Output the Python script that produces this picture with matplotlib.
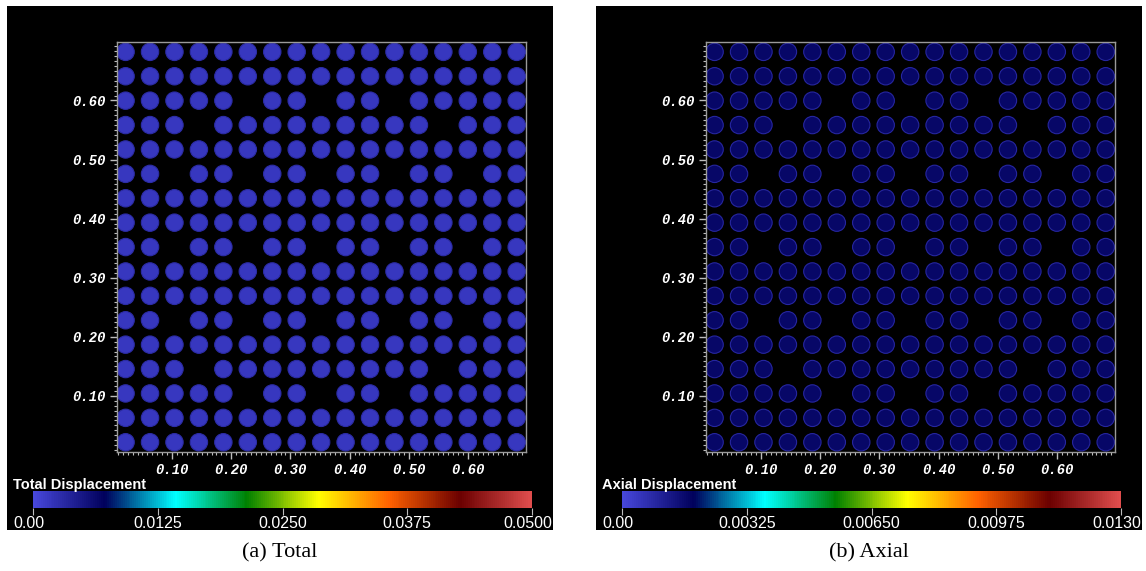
import matplotlib
matplotlib.use("Agg")
import matplotlib.pyplot as plt
import matplotlib.transforms as mtrans
import numpy as np
from matplotlib.colors import LinearSegmentedColormap, Normalize
from matplotlib.collections import PatchCollection
from matplotlib.patches import Circle
from matplotlib.ticker import MultipleLocator
import matplotlib.cm as cm

# 17x17 fuel assembly, rows counted from the top, guide tube holes left empty
n_pins = 17
guide_tubes = [
    (2, 5), (2, 8), (2, 11),
    (3, 3), (3, 13),
    (5, 2), (5, 5), (5, 8), (5, 11), (5, 14),
    (8, 2), (8, 5), (8, 8), (8, 11), (8, 14),
    (11, 2), (11, 5), (11, 8), (11, 11), (11, 14),
    (13, 3), (13, 13),
    (14, 5), (14, 8), (14, 11),
]
pin_pitch = 0.0413
pin_first = 0.0215
pin_radius = 0.0147

# displacement carried by every pin (nearly uniform field)
total_disp = 0.0017
axial_disp = 0.0017

panels = ["(a) Total", "(b) Axial"]
bar_titles = ["Total Displacement", "Axial Displacement"]
bar_max = [0.05, 0.013]
bar_ticks = [
    [0.0, 0.0125, 0.025, 0.0375, 0.05],
    [0.0, 0.00325, 0.0065, 0.00975, 0.013],
]
bar_labels = [
    ["0.00", "0.0125", "0.0250", "0.0375", "0.0500"],
    ["0.00", "0.00325", "0.00650", "0.00975", "0.0130"],
]
pin_values = [total_disp, axial_disp]
edge_colors = ["#2c2ca6", "#2626a0"]

axis_ticks = [0.10, 0.20, 0.30, 0.40, 0.50, 0.60]
axis_labels = ["0.10", "0.20", "0.30", "0.40", "0.50", "0.60"]

# ParaView "Rainbow Desaturated"
rd_colors = [
    (0.278, 0.278, 0.859), (0.0, 0.0, 0.357), (0.0, 1.0, 1.0),
    (0.0, 0.502, 0.0), (1.0, 1.0, 0.0), (1.0, 0.380, 0.0),
    (0.420, 0.0, 0.0), (0.878, 0.302, 0.302),
]
cmap = LinearSegmentedColormap.from_list("rainbow_desat", rd_colors)

W, H = 1146, 571
fig = plt.figure(figsize=(W / 100, H / 100), dpi=100)
fig.patch.set_facecolor("white")


def frac(x0, y0, x1, y1):
    return [x0 / W, 1 - y1 / H, (x1 - x0) / W, (y1 - y0) / H]


mono = dict(family="Liberation Mono", weight="bold", style="italic", size=10)

for k in range(2):
    dx = k * 589

    bg = fig.add_axes(frac(7 + dx, 6, 553 + dx, 530))
    bg.set_facecolor("black")
    bg.set_xticks([])
    bg.set_yticks([])
    for s in bg.spines.values():
        s.set_visible(False)

    ax = fig.add_axes(frac(117 + dx, 42, 526 + dx, 452))
    ax.set_facecolor("black")
    ax.set_xlim(0.007, 0.698)
    ax.set_ylim(0.005, 0.699)

    norm = Normalize(0, bar_max[k])
    circles = []
    vals = []
    for r in range(n_pins):
        for c in range(n_pins):
            if (r, c) in guide_tubes:
                continue
            x = pin_first + c * pin_pitch
            y = pin_first + (n_pins - 1 - r) * pin_pitch
            circles.append(Circle((x, y), pin_radius))
            vals.append(pin_values[k])
    pc = PatchCollection(circles, cmap=cmap, norm=norm,
                         edgecolor=edge_colors[k], linewidth=0.8)
    pc.set_array(np.array(vals))
    ax.add_collection(pc)

    for side in ["top", "right", "left", "bottom"]:
        ax.spines[side].set_color("#9a9a9a")
        ax.spines[side].set_linewidth(1.0)
    ax.set_xticks(axis_ticks)
    ax.set_yticks(axis_ticks)
    ax.set_xticklabels(axis_labels, color="white", **mono)
    ax.set_yticklabels(axis_labels, color="white", **mono)
    ax.xaxis.set_minor_locator(MultipleLocator(0.1 / 12))
    ax.yaxis.set_minor_locator(MultipleLocator(0.1 / 12))
    ax.tick_params(which="major", length=5, width=1, color="#bdbdbd", pad=3)
    ax.tick_params(which="minor", length=2.5, width=0.8, color="#bdbdbd")

    cax = fig.add_axes(frac(33 + dx, 491, 532 + dx, 508))
    sm = cm.ScalarMappable(norm=norm, cmap=cmap)
    cb = fig.colorbar(sm, cax=cax, orientation="horizontal")
    cb.outline.set_visible(False)
    cb.set_ticks(bar_ticks[k])
    cb.set_ticklabels(bar_labels[k])
    cax.tick_params(length=5, width=0.8, color="#bdbdbd", labelcolor="white",
                    labelsize=11.5, pad=1)
    tl = cax.get_xticklabels()
    for t in tl:
        t.set_family("Liberation Sans")
    # end labels pushed inside the black panel like the reference
    tl[0].set_ha("left")
    tl[0].set_transform(tl[0].get_transform()
                        + mtrans.ScaledTranslation(-0.2, 0, fig.dpi_scale_trans))
    tl[-1].set_ha("right")
    tl[-1].set_transform(tl[-1].get_transform()
                         + mtrans.ScaledTranslation(0.2, 0, fig.dpi_scale_trans))

    fig.text((13 + dx) / W, 1 - 485 / H, bar_titles[k], color="white",
             family="Liberation Sans", weight="bold", size=10.5,
             ha="left", va="center")

    fig.text((280 + dx) / W, 1 - 553 / H, panels[k], color="black",
             family="Liberation Serif", size=16, ha="center", va="center")

fig.savefig("out.png", dpi=100, facecolor="white")
